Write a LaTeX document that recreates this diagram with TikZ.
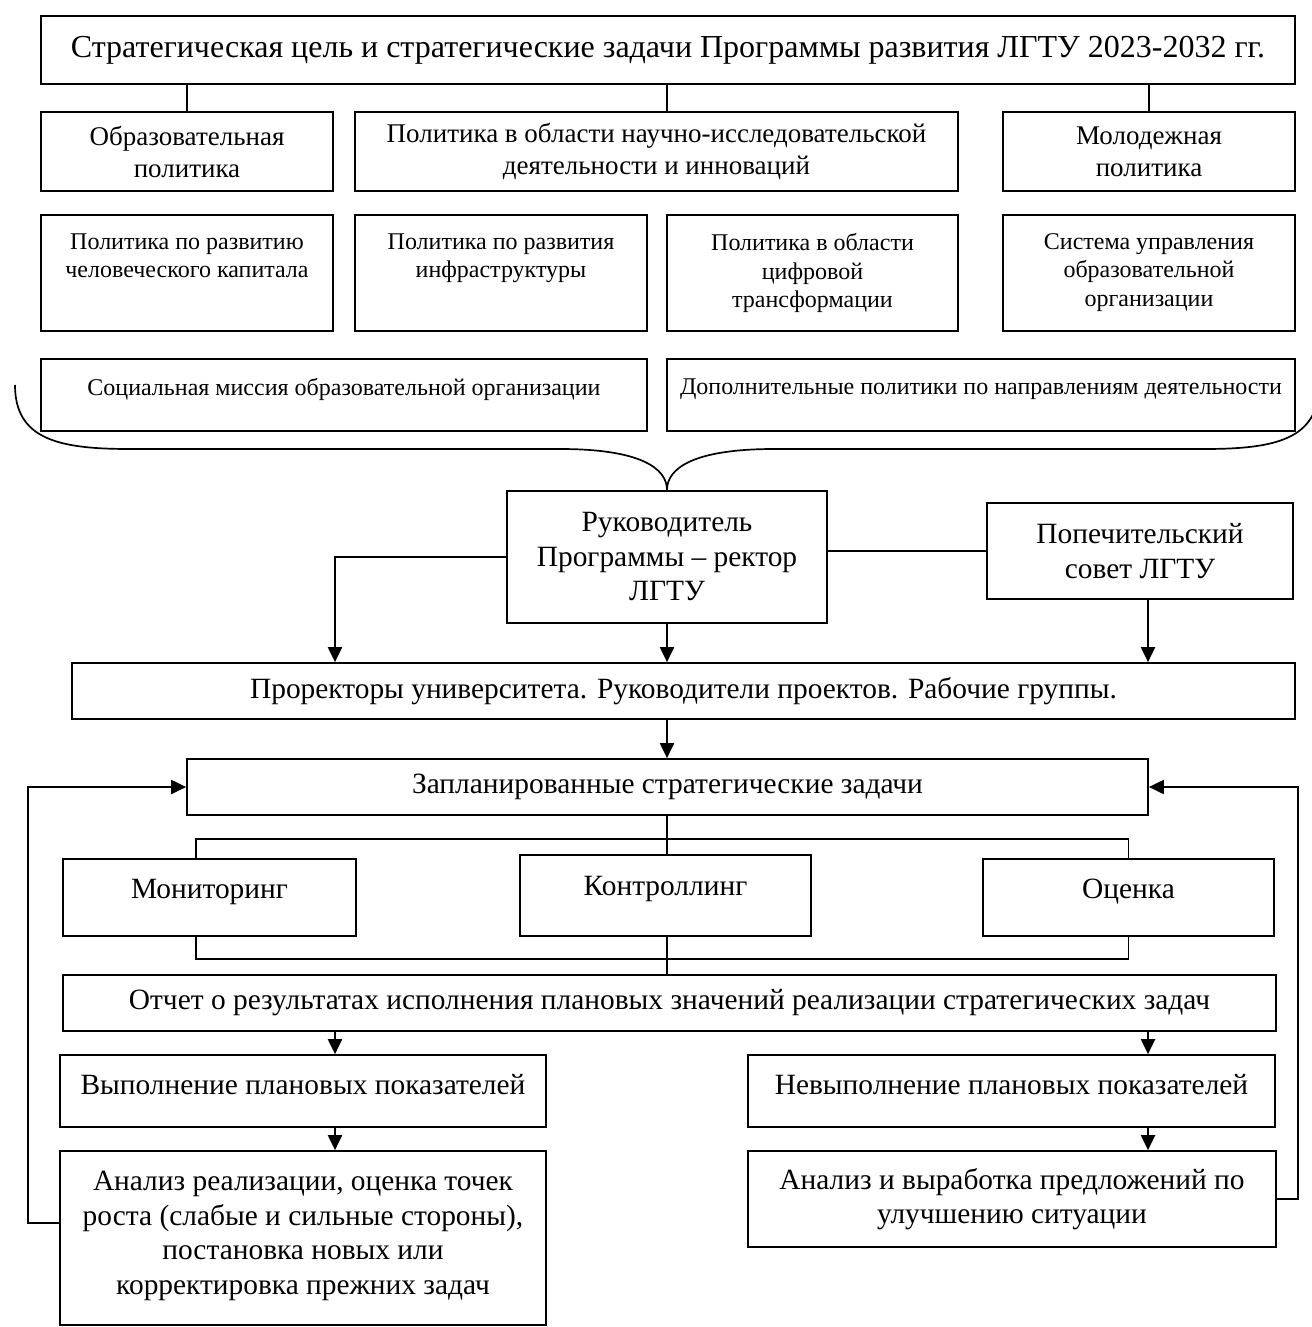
\documentclass[tikz,border=0pt]{standalone}
\usepackage{fontspec}
\setmainfont{Liberation Serif}
\usetikzlibrary{positioning,arrows.meta,calc}
\tikzset{
  box/.style={draw, line width=1.7pt, inner sep=0pt, align=center},
  txt/.style={align=center, inner sep=0pt},
  link/.style={line width=1.8pt},
  arr/.style={line width=2pt, -{Triangle[length=15pt,width=14pt]}}
}
\newcommand{\bigfont}{\fontsize{32}{36}\selectfont}
\newcommand{\midfont}{\fontsize{29.4}{34.5}\selectfont}
\newcommand{\polfont}{\fontsize{27}{32}\selectfont}
\newcommand{\smfont}{\fontsize{24}{28.5}\selectfont}

\begin{document}
\begin{tikzpicture}[x=1pt,y=-1pt]
  \useasboundingbox (0,0) rectangle (1311,1327);
  % columns of the connectors
  \coordinate (cl) at (335,0);
  \coordinate (cm) at (667,0);
  \coordinate (cr) at (1148,0);
  \coordinate (fbl) at (28,0);
  \coordinate (fbr) at (1298,0);

  % goal and policies
  \node[box, font=\bigfont, minimum width=1254, minimum height=68] (goal) at (668,50)
    {Стратегическая цель и стратегические задачи Программы развития ЛГТУ 2023-2032 гг.};
  \node[box, font=\polfont, minimum width=292, minimum height=79] (edu) at (187,151.5) {Образовательная\\политика};
  \node[box, font=\polfont, minimum width=603, minimum height=79] (sci) at (656.5,151.5)
    {Политика в области научно-исследовательской\\деятельности и инноваций};
  \node[box, font=\polfont, minimum width=292, minimum height=79] (youth) at (1149,151.5) {Молодежная\\политика};
  \draw[link] (edu.north) -- (edu.north |- goal.south);
  \draw[link] (cm |- goal.south) -- (cm |- sci.north);
  \draw[link] (youth.north) -- (youth.north |- goal.south);

  \node[box, minimum width=292, minimum height=116] (human) at (187,273) {};
  \node[box, minimum width=292, minimum height=116] (infra) at (501,273) {};
  \node[box, minimum width=291, minimum height=116] (digit) at (812.5,273) {};
  \node[box, minimum width=292, minimum height=116] (mgmt) at (1149,273) {};
  \node[txt, font=\smfont, below=19pt of human.north] (human-t) {Политика по развитию\\человеческого капитала};
  \node[txt, font=\smfont, below=19pt of infra.north] (infra-t) {Политика по развития\\инфраструктуры};
  \node[txt, font=\smfont, below=19pt of digit.north] (digit-t) {Политика в области\\цифровой\\трансформации};
  \node[txt, font=\smfont, below=19pt of mgmt.north] (mgmt-t) {Система управления\\образовательной\\организации};

  \node[box, minimum width=606, minimum height=72] (social) at (344,395) {};
  \node[box, minimum width=628, minimum height=72] (extra) at (981,395) {};
  \node[txt, font=\smfont, below=20pt of social.north] (social-t) {Социальная миссия образовательной организации};
  \node[txt, font=\smfont, below=20pt of extra.north] (extra-t) {Дополнительные политики по направлениям деятельности};

  % brace
  \draw[line width=1.7pt] (15,385) .. controls (15,440) and (60,449) .. (130,449) -- (560,449)
    .. controls (640,449) and (667,468) .. (667,490)
    .. controls (667,468) and (694,449) .. (774,449) -- (1204,449)
    .. controls (1274,449) and (1319,440) .. (1319,385);

  % management
  \node[box, font=\midfont, minimum width=320, minimum height=132] (head) at (667,557)
    {Руководитель\\Программы -- ректор\\ЛГТУ};
  \node[box, font=\midfont, minimum width=306, minimum height=96] (board) at (1140,551)
    {Попечительский\\совет ЛГТУ};
  \node[box, font=\midfont, minimum width=1223, minimum height=56] (vice) at (683.5,691)
    {Проректоры университета. Руководители проектов. Рабочие группы.};
  \node[box, font=\midfont, minimum width=961, minimum height=56] (tasks) at (667.5,787)
    {Запланированные стратегические задачи};
  \draw[link] (head.east |- board.west) -- (board.west);
  \draw[arr] (head.west) -| (cl |- vice.north);
  \draw[arr] (head.south) -- (head.south |- vice.north);
  \draw[arr] (cr |- board.south) -- (cr |- vice.north);
  \draw[arr] (cm |- vice.south) -- (cm |- tasks.north);

  % monitoring
  \node[box, minimum width=293, minimum height=77] (mon) at (209.5,897.5) {};
  \node[box, minimum width=291, minimum height=81] (ctrl) at (665.5,895.5) {};
  \node[box, minimum width=291, minimum height=77] (eval) at (1128.5,897.5) {};
  \node[txt, font=\midfont, below=21pt of mon.north] (mon-t) {Мониторинг};
  \node[txt, font=\midfont, below=22pt of ctrl.north] (ctrl-t) {Контроллинг};
  \node[txt, font=\midfont, below=21pt of eval.north] (eval-t) {Оценка};
  \node[box, font=\midfont, minimum width=1213, minimum height=56] (report) at (669.5,1003)
    {Отчет о результатах исполнения плановых значений реализации стратегических задач};
  \draw[link] (cm |- tasks.south) -- (cm |- ctrl.north);
  \draw[link] ([xshift=-13.5pt]mon.north) |- ($(tasks.south)!0.6!(ctrl.north)$) -| (eval.north);
  \draw[link] ([xshift=-13.5pt]mon.south) |- ($(ctrl.south)!0.6!(report.north)$) -| (eval.south);
  \draw[link] (cm |- ctrl.south) -- (cm |- report.north);

  % results
  \node[box, minimum width=486, minimum height=72] (done) at (303,1091) {};
  \node[box, minimum width=527, minimum height=72] (fail) at (1011.5,1091) {};
  \node[txt, font=\midfont, below=20pt of done.north] (done-t) {Выполнение плановых показателей};
  \node[txt, font=\midfont, below=20pt of fail.north] (fail-t) {Невыполнение плановых показателей};
  \node[box, minimum width=486, minimum height=174] (anl) at (303,1238) {};
  \node[txt, font=\midfont, below=21pt of anl.north] (anl-t)
    {Анализ реализации, оценка точек\\роста (слабые и сильные стороны),\\постановка новых или\\корректировка прежних задач};
  \node[box, font=\midfont, minimum width=528, minimum height=96] (prop) at (1012,1199)
    {Анализ и выработка предложений по\\улучшению ситуации};
  \draw[arr] (cl |- report.south) -- (cl |- done.north);
  \draw[arr] (cr |- report.south) -- (cr |- fail.north);
  \draw[arr] (cl |- done.south) -- (cl |- anl.north);
  \draw[arr] (cr |- fail.south) -- (cr |- prop.north);

  % feedback
  \draw[arr] ([yshift=15pt]anl.west) -| (fbl |- tasks.west) -- (tasks.west);
  \draw[arr] (prop.east) -| (fbr |- tasks.east) -- (tasks.east);
\end{tikzpicture}
\end{document}
